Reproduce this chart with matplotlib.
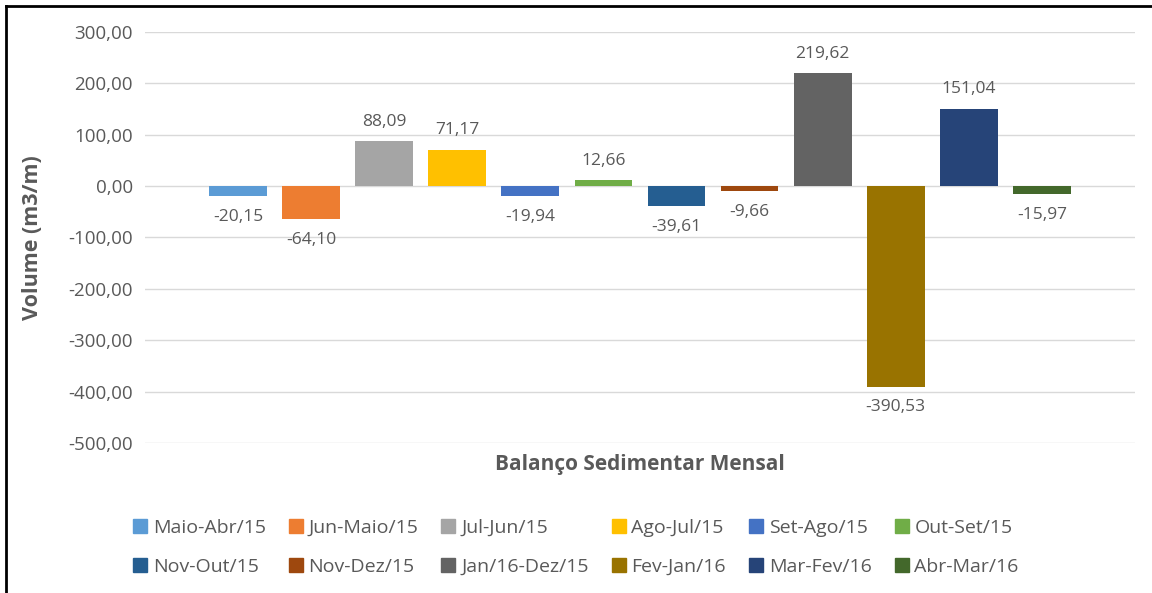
import matplotlib
matplotlib.use("Agg")
import matplotlib.pyplot as plt
from matplotlib.lines import Line2D

# Data
series = ["Maio-Abr/15", "Jun-Maio/15", "Jul-Jun/15", "Ago-Jul/15", "Set-Ago/15", "Out-Set/15",
          "Nov-Out/15", "Nov-Dez/15", "Jan/16-Dez/15", "Fev-Jan/16", "Mar-Fev/16", "Abr-Mar/16"]
values = [-20.15, -64.10, 88.09, 71.17, -19.94, 12.66, -39.61, -9.66, 219.62, -390.53, 151.04, -15.97]
colors = ["#5B9BD5", "#ED7D31", "#A5A5A5", "#FFC000", "#4472C4", "#70AD47",
          "#255E91", "#9E480E", "#636363", "#997300", "#264478", "#43682B"]
yticks = [300, 200, 100, 0, -100, -200, -300, -400, -500]

plt.rcParams['font.family'] = ['Open Sans', 'DejaVu Sans']
txt = "#595959"

def fmt(v):
    return f"{v:.2f}".replace(".", ",")

fig = plt.figure(figsize=(11.52, 5.93), dpi=100)
ax = fig.add_axes([0.126, 0.253, 0.859, 0.693])

x = list(range(len(values)))
bars = ax.bar(x, values, width=0.79, color=colors, zorder=3)

for xi, v in zip(x, values):
    ax.annotate(fmt(v), xy=(xi, v), xytext=(0, 8 if v >= 0 else -9), textcoords="offset points",
                ha="center", va="bottom" if v >= 0 else "top", fontsize=12.5, color=txt)

ax.set_ylim(-500, 300)
ax.set_xlim(-1.27, 12.27)
ax.set_yticks(yticks)
ax.set_yticklabels([fmt(t) for t in yticks], fontsize=13.5, color=txt)
ax.tick_params(axis="y", length=0, pad=9)
ax.set_xticks([])
ax.grid(axis="y", color="#D9D9D9", linewidth=1, zorder=0)
for s in ax.spines.values():
    s.set_visible(False)

ax.set_ylabel("Volume (m3/m)", fontsize=15.5, fontweight="bold", color=txt, labelpad=18)
ax.set_xlabel("Balanço Sedimentar Mensal", fontsize=15, fontweight="bold", color=txt, labelpad=8)

# legend in row-major order
handles = [Line2D([], [], marker="s", linestyle="none", markersize=10, color=c) for c in colors]
order = []
for c in range(6):
    order += [c, c + 6]
leg = fig.legend([handles[i] for i in order], [series[i] for i in order], ncol=6,
                 loc="lower center", bbox_to_anchor=(0.5, 0.0), frameon=False,
                 fontsize=14, handlelength=0.7, handletextpad=0.3, columnspacing=1.2,
                 labelspacing=1.05)
for t in leg.get_texts():
    t.set_color(txt)

# outer frame (top & left visible)
fig.add_artist(Line2D([0.005, 1.0], [0.99, 0.99], color="black", linewidth=2, transform=fig.transFigure))
fig.add_artist(Line2D([0.005, 0.005], [0.0, 0.99], color="black", linewidth=2, transform=fig.transFigure))

fig.savefig("out.png", dpi=100)
